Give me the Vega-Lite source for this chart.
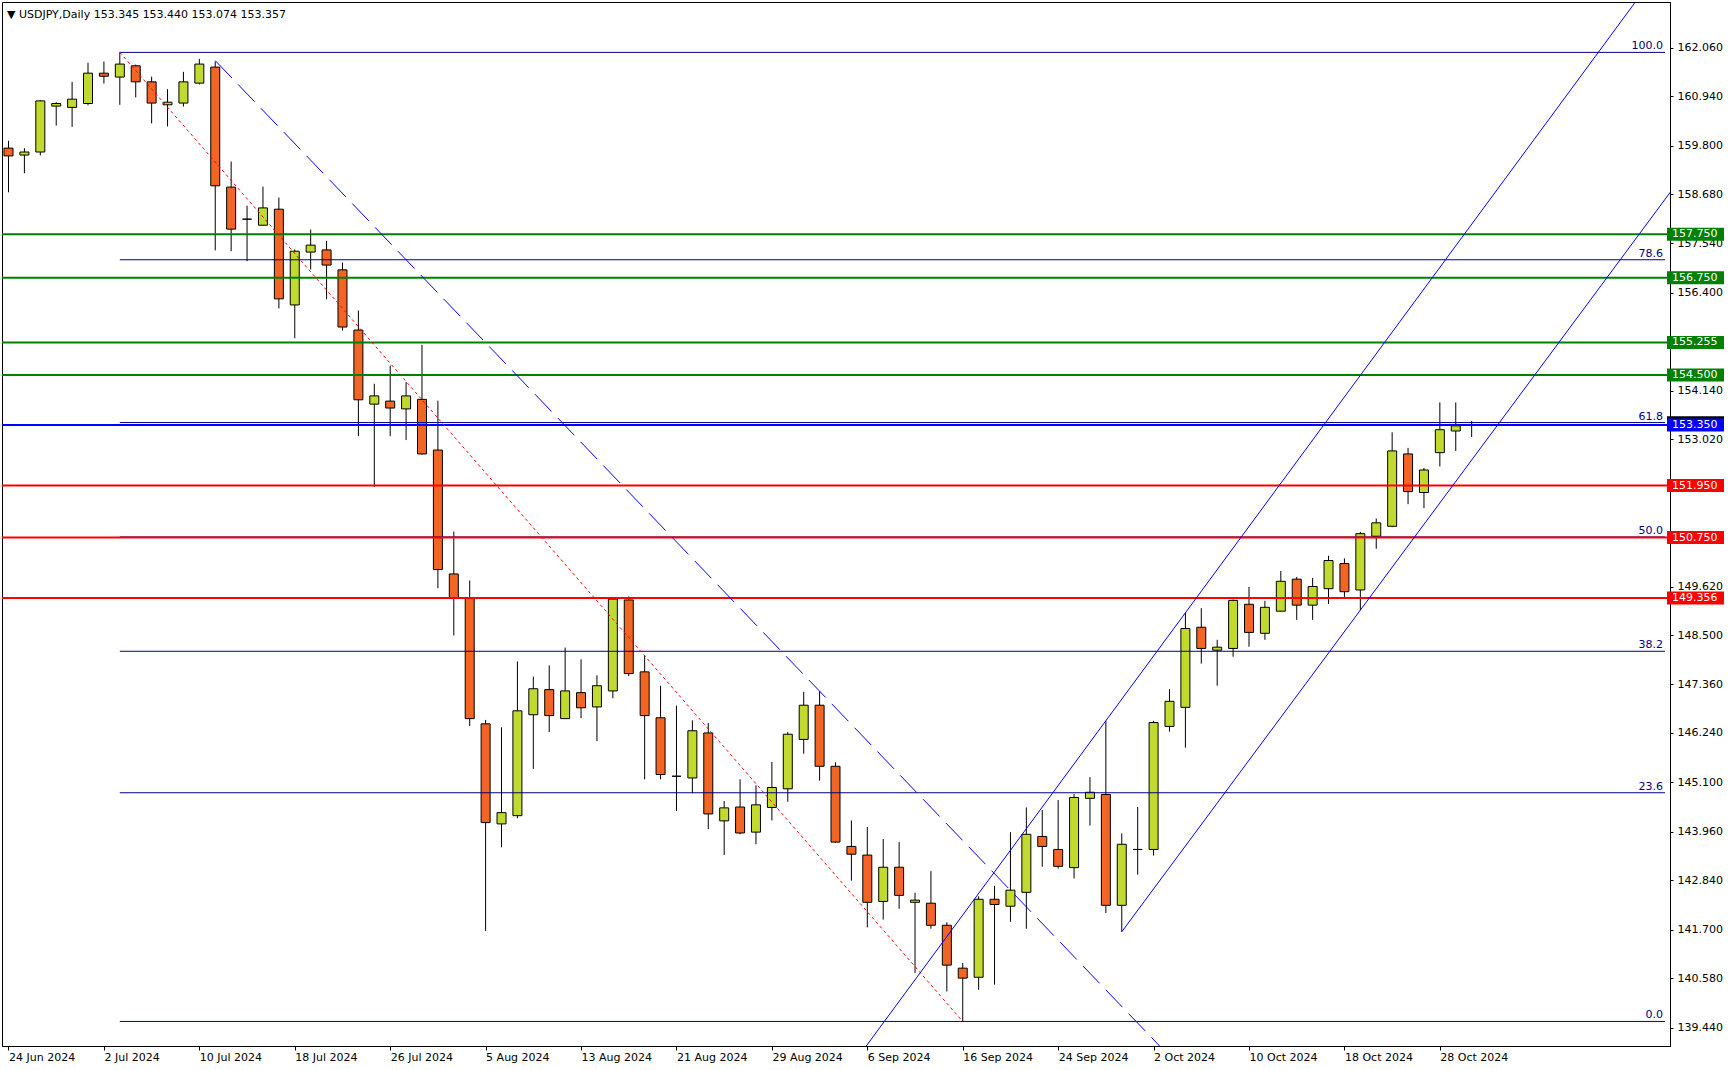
{
  "$schema": "https://vega.github.io/schema/vega-lite/v6.json",
  "width": 1668,
  "height": 1044,
  "autosize": {"type": "none"},
  "padding": {"left": 2, "top": 2, "right": 64, "bottom": 24},
  "background": "#FFFFFF",
  "title": {"text": "▼ USDJPY,Daily  153.345 153.440 153.074 153.357", "anchor": "start", "frame": "group", "offset": 0, "dx": 5, "dy": 18, "fontSize": 11, "fontWeight": "normal", "font": "DejaVu Sans", "color": "#000000"},
  "config": {
    "font": "DejaVu Sans",
    "view": {"stroke": "#000000", "strokeWidth": 1},
    "axis": {"grid": false, "domainColor": "#000000", "tickColor": "#000000", "labelColor": "#000000", "labelFont": "DejaVu Sans", "labelFontSize": 11}
  },
  "datasets": {
    "candles": [
      {"i":0,"date":"2024-06-24","o":159.74,"h":159.91,"l":158.72,"c":159.56},
      {"i":1,"date":"2024-06-25","o":159.58,"h":159.74,"l":159.16,"c":159.65},
      {"i":2,"date":"2024-06-26","o":159.65,"h":160.85,"l":159.57,"c":160.83},
      {"i":3,"date":"2024-06-27","o":160.71,"h":160.80,"l":160.26,"c":160.77},
      {"i":4,"date":"2024-06-28","o":160.68,"h":161.27,"l":160.23,"c":160.87},
      {"i":5,"date":"2024-07-01","o":160.77,"h":161.71,"l":160.73,"c":161.47},
      {"i":6,"date":"2024-07-02","o":161.47,"h":161.74,"l":161.23,"c":161.40},
      {"i":7,"date":"2024-07-03","o":161.38,"h":161.95,"l":160.74,"c":161.68},
      {"i":8,"date":"2024-07-04","o":161.64,"h":161.67,"l":160.91,"c":161.27},
      {"i":9,"date":"2024-07-05","o":161.27,"h":161.39,"l":160.31,"c":160.78},
      {"i":10,"date":"2024-07-08","o":160.74,"h":161.10,"l":160.24,"c":160.80},
      {"i":11,"date":"2024-07-09","o":160.78,"h":161.50,"l":160.70,"c":161.27},
      {"i":12,"date":"2024-07-10","o":161.24,"h":161.80,"l":161.21,"c":161.68},
      {"i":13,"date":"2024-07-11","o":161.61,"h":161.74,"l":157.38,"c":158.87},
      {"i":14,"date":"2024-07-12","o":158.84,"h":159.43,"l":157.36,"c":157.87},
      {"i":15,"date":"2024-07-15","o":158.10,"h":158.41,"l":157.13,"c":158.10},
      {"i":16,"date":"2024-07-16","o":157.96,"h":158.85,"l":157.95,"c":158.36},
      {"i":17,"date":"2024-07-17","o":158.33,"h":158.60,"l":156.04,"c":156.26},
      {"i":18,"date":"2024-07-18","o":156.12,"h":157.40,"l":155.35,"c":157.36},
      {"i":19,"date":"2024-07-19","o":157.34,"h":157.86,"l":156.94,"c":157.50},
      {"i":20,"date":"2024-07-22","o":157.39,"h":157.60,"l":156.25,"c":157.04},
      {"i":21,"date":"2024-07-23","o":156.93,"h":157.10,"l":155.53,"c":155.61},
      {"i":22,"date":"2024-07-24","o":155.54,"h":155.99,"l":153.09,"c":153.93},
      {"i":23,"date":"2024-07-25","o":153.83,"h":154.30,"l":151.92,"c":154.02},
      {"i":24,"date":"2024-07-26","o":153.90,"h":154.72,"l":153.09,"c":153.74},
      {"i":25,"date":"2024-07-29","o":153.72,"h":154.34,"l":153.00,"c":154.02},
      {"i":26,"date":"2024-07-30","o":153.94,"h":155.20,"l":152.66,"c":152.68},
      {"i":27,"date":"2024-07-31","o":152.77,"h":153.91,"l":149.58,"c":150.01},
      {"i":28,"date":"2024-08-01","o":149.91,"h":150.89,"l":148.49,"c":149.35},
      {"i":29,"date":"2024-08-02","o":149.35,"h":149.76,"l":146.40,"c":146.57},
      {"i":30,"date":"2024-08-05","o":146.45,"h":146.54,"l":141.67,"c":144.17},
      {"i":31,"date":"2024-08-06","o":144.14,"h":146.37,"l":143.60,"c":144.40},
      {"i":32,"date":"2024-08-07","o":144.33,"h":147.89,"l":144.27,"c":146.75},
      {"i":33,"date":"2024-08-08","o":146.66,"h":147.54,"l":145.41,"c":147.26},
      {"i":34,"date":"2024-08-09","o":147.24,"h":147.80,"l":146.26,"c":146.64},
      {"i":35,"date":"2024-08-12","o":146.57,"h":148.21,"l":146.57,"c":147.21},
      {"i":36,"date":"2024-08-13","o":147.17,"h":147.94,"l":146.58,"c":146.82},
      {"i":37,"date":"2024-08-14","o":146.84,"h":147.57,"l":146.05,"c":147.33},
      {"i":38,"date":"2024-08-15","o":147.21,"h":149.38,"l":147.04,"c":149.33},
      {"i":39,"date":"2024-08-16","o":149.31,"h":149.39,"l":147.55,"c":147.61},
      {"i":40,"date":"2024-08-19","o":147.65,"h":148.04,"l":145.17,"c":146.64},
      {"i":41,"date":"2024-08-20","o":146.59,"h":147.33,"l":145.17,"c":145.28},
      {"i":42,"date":"2024-08-21","o":145.24,"h":146.87,"l":144.44,"c":145.24},
      {"i":43,"date":"2024-08-22","o":145.20,"h":146.53,"l":144.85,"c":146.29},
      {"i":44,"date":"2024-08-23","o":146.24,"h":146.47,"l":144.02,"c":144.37},
      {"i":45,"date":"2024-08-26","o":144.21,"h":144.67,"l":143.42,"c":144.51},
      {"i":46,"date":"2024-08-27","o":144.53,"h":145.17,"l":143.90,"c":143.93},
      {"i":47,"date":"2024-08-28","o":143.95,"h":145.03,"l":143.67,"c":144.58},
      {"i":48,"date":"2024-08-29","o":144.52,"h":145.57,"l":144.22,"c":144.98},
      {"i":49,"date":"2024-08-30","o":144.95,"h":146.26,"l":144.65,"c":146.21},
      {"i":50,"date":"2024-09-02","o":146.09,"h":147.19,"l":145.76,"c":146.88},
      {"i":51,"date":"2024-09-03","o":146.88,"h":147.20,"l":145.14,"c":145.47},
      {"i":52,"date":"2024-09-04","o":145.47,"h":145.56,"l":143.70,"c":143.72},
      {"i":53,"date":"2024-09-05","o":143.62,"h":144.22,"l":142.83,"c":143.44},
      {"i":54,"date":"2024-09-06","o":143.42,"h":144.07,"l":141.75,"c":142.33},
      {"i":55,"date":"2024-09-09","o":142.35,"h":143.79,"l":141.93,"c":143.14},
      {"i":56,"date":"2024-09-10","o":143.14,"h":143.72,"l":142.18,"c":142.49},
      {"i":57,"date":"2024-09-11","o":142.33,"h":142.55,"l":140.70,"c":142.38},
      {"i":58,"date":"2024-09-12","o":142.31,"h":143.05,"l":141.72,"c":141.80},
      {"i":59,"date":"2024-09-13","o":141.80,"h":141.87,"l":140.27,"c":140.88},
      {"i":60,"date":"2024-09-16","o":140.81,"h":140.93,"l":139.58,"c":140.58},
      {"i":61,"date":"2024-09-17","o":140.60,"h":142.47,"l":140.31,"c":142.40},
      {"i":62,"date":"2024-09-18","o":142.40,"h":142.71,"l":140.43,"c":142.28},
      {"i":63,"date":"2024-09-19","o":142.24,"h":143.95,"l":141.88,"c":142.61},
      {"i":64,"date":"2024-09-20","o":142.56,"h":144.52,"l":141.72,"c":143.90},
      {"i":65,"date":"2024-09-23","o":143.85,"h":144.46,"l":143.15,"c":143.62},
      {"i":66,"date":"2024-09-24","o":143.55,"h":144.69,"l":143.11,"c":143.16},
      {"i":67,"date":"2024-09-25","o":143.13,"h":144.83,"l":142.88,"c":144.75},
      {"i":68,"date":"2024-09-26","o":144.73,"h":145.22,"l":144.10,"c":144.87},
      {"i":69,"date":"2024-09-27","o":144.82,"h":146.52,"l":142.08,"c":142.26},
      {"i":70,"date":"2024-09-30","o":142.26,"h":143.92,"l":141.65,"c":143.67},
      {"i":71,"date":"2024-10-01","o":143.55,"h":144.53,"l":142.97,"c":143.55},
      {"i":72,"date":"2024-10-02","o":143.55,"h":146.52,"l":143.41,"c":146.48},
      {"i":73,"date":"2024-10-03","o":146.39,"h":147.25,"l":146.27,"c":146.97},
      {"i":74,"date":"2024-10-04","o":146.83,"h":149.02,"l":145.90,"c":148.65},
      {"i":75,"date":"2024-10-07","o":148.68,"h":149.12,"l":147.84,"c":148.19},
      {"i":76,"date":"2024-10-08","o":148.15,"h":148.39,"l":147.33,"c":148.22},
      {"i":77,"date":"2024-10-09","o":148.19,"h":149.32,"l":148.00,"c":149.30},
      {"i":78,"date":"2024-10-10","o":149.21,"h":149.61,"l":148.23,"c":148.56},
      {"i":79,"date":"2024-10-11","o":148.54,"h":149.29,"l":148.39,"c":149.14},
      {"i":80,"date":"2024-10-14","o":149.05,"h":149.98,"l":149.04,"c":149.74},
      {"i":81,"date":"2024-10-15","o":149.79,"h":149.84,"l":148.85,"c":149.19},
      {"i":82,"date":"2024-10-16","o":149.19,"h":149.82,"l":148.85,"c":149.62},
      {"i":83,"date":"2024-10-17","o":149.57,"h":150.33,"l":149.22,"c":150.22},
      {"i":84,"date":"2024-10-18","o":150.15,"h":150.27,"l":149.36,"c":149.50},
      {"i":85,"date":"2024-10-21","o":149.54,"h":150.88,"l":149.07,"c":150.84},
      {"i":86,"date":"2024-10-22","o":150.78,"h":151.19,"l":150.49,"c":151.09},
      {"i":87,"date":"2024-10-23","o":151.01,"h":153.18,"l":150.99,"c":152.75},
      {"i":88,"date":"2024-10-24","o":152.68,"h":152.82,"l":151.52,"c":151.81},
      {"i":89,"date":"2024-10-25","o":151.79,"h":152.36,"l":151.43,"c":152.31},
      {"i":90,"date":"2024-10-28","o":152.71,"h":153.87,"l":152.39,"c":153.24},
      {"i":91,"date":"2024-10-29","o":153.21,"h":153.87,"l":152.75,"c":153.33},
      {"i":92,"date":"2024-10-30","o":153.345,"h":153.44,"l":153.074,"c":153.357}
    ],
    "levels": [
      {"price":157.75,"kind":"resistance"},
      {"price":156.75,"kind":"resistance"},
      {"price":155.255,"kind":"resistance"},
      {"price":154.5,"kind":"resistance"},
      {"price":153.35,"kind":"pivot"},
      {"price":151.95,"kind":"support"},
      {"price":150.75,"kind":"support"},
      {"price":149.356,"kind":"support"}
    ],
    "fib": [
      {"level":"100.0","price":161.95,"start":7},
      {"level":"78.6","price":157.163,"start":7},
      {"level":"61.8","price":153.405,"start":7},
      {"level":"50.0","price":150.765,"start":7},
      {"level":"38.2","price":148.125,"start":7},
      {"level":"23.6","price":144.859,"start":7},
      {"level":"0.0","price":139.58,"start":7}
    ],
    "lines": [
      {"name":"fibline","i":7,"p":161.95},
      {"name":"fibline","i":60,"p":139.58},
      {"name":"downtrend","i":13,"p":161.76},
      {"name":"downtrend","i":75,"p":138.01},
      {"name":"chanUp","i":52,"p":138.05},
      {"name":"chanUp","i":106,"p":164.96},
      {"name":"chanLow","i":70,"p":141.65},
      {"name":"chanLow","i":106,"p":159.47}
    ]
  },
  "layer": [
    {
      "data": {"name": "candles"},
      "mark": {"type": "rule", "stroke": "#000000", "strokeWidth": 1},
      "encoding": {
        "x": {"field": "i", "type": "quantitative", "title": null,
          "scale": {"domain": [-0.09375, 104.15625], "nice": false, "zero": false},
          "axis": {"orient": "bottom", "values": [0,6,12,18,24,30,36,42,48,54,60,66,72,78,84,90],
            "labelExpr": "['24 Jun 2024','2 Jul 2024','10 Jul 2024','18 Jul 2024','26 Jul 2024','5 Aug 2024','13 Aug 2024','21 Aug 2024','29 Aug 2024','6 Sep 2024','16 Sep 2024','24 Sep 2024','2 Oct 2024','10 Oct 2024','18 Oct 2024','28 Oct 2024'][round(datum.value/6)]",
            "labelAlign": "left", "labelBaseline": "top", "labelFlush": false, "labelOverlap": false, "tickSize": 4, "labelPadding": 1, "title": null}},
        "y": {"field": "l", "type": "quantitative", "title": null,
          "scale": {"domain": [139.013, 163.113], "nice": false, "zero": false},
          "axis": {"orient": "right", "values": [139.44,140.58,141.7,142.84,143.96,145.1,146.24,147.36,148.5,149.62,153.02,154.14,156.4,157.54,158.68,159.8,160.94,162.06],
            "format": ".3f", "tickSize": 3, "labelPadding": 4, "labelFlush": false, "labelOverlap": false, "labelBaseline": "middle", "title": null}},
        "y2": {"field": "h"}
      }
    },
    {
      "data": {"name": "candles"},
      "mark": {"type": "bar", "width": 9, "stroke": "#000000", "strokeWidth": 1},
      "encoding": {
        "x": {"field": "i", "type": "quantitative", "title": null, "scale": {"domain": [-0.09375, 104.15625], "nice": false, "zero": false}},
        "y": {"field": "o", "type": "quantitative", "title": null, "scale": {"domain": [139.013, 163.113], "nice": false, "zero": false}},
        "y2": {"field": "c"},
        "fill": {"condition": {"test": "datum.c >= datum.o", "value": "#C2D92F"}, "value": "#F26525"}
      }
    },
    {
      "data": {"name": "fib"},
      "mark": {"type": "rule", "stroke": "#000080", "strokeWidth": 1},
      "encoding": {
        "x": {"field": "start", "type": "quantitative", "title": null, "scale": {"domain": [-0.09375, 104.15625], "nice": false, "zero": false}},
        "x2": {"datum": 104.15625},
        "y": {"field": "price", "type": "quantitative", "title": null, "scale": {"domain": [139.013, 163.113], "nice": false, "zero": false}}
      }
    },
    {
      "data": {"name": "levels"},
      "mark": {"type": "rule", "strokeWidth": 2},
      "encoding": {
        "y": {"field": "price", "type": "quantitative", "title": null, "scale": {"domain": [139.013, 163.113], "nice": false, "zero": false}},
        "stroke": {"field": "kind", "type": "nominal", "legend": null, "scale": {"domain": ["resistance", "pivot", "support"], "range": ["#008000", "#0000FF", "#FF0000"]}}
      }
    },
    {
      "data": {"name": "lines"},
      "transform": [{"filter": "datum.name == 'fibline'"}],
      "mark": {"type": "line", "stroke": "#FF0000", "strokeWidth": 1, "strokeDash": [3, 3], "clip": true},
      "encoding": {
        "x": {"field": "i", "type": "quantitative", "title": null, "scale": {"domain": [-0.09375, 104.15625], "nice": false, "zero": false}},
        "y": {"field": "p", "type": "quantitative", "title": null, "scale": {"domain": [139.013, 163.113], "nice": false, "zero": false}}
      }
    },
    {
      "data": {"name": "lines"},
      "transform": [{"filter": "datum.name == 'downtrend'"}],
      "mark": {"type": "line", "stroke": "#0000FF", "strokeWidth": 1, "strokeDash": [24, 9], "clip": true},
      "encoding": {
        "x": {"field": "i", "type": "quantitative", "title": null, "scale": {"domain": [-0.09375, 104.15625], "nice": false, "zero": false}},
        "y": {"field": "p", "type": "quantitative", "title": null, "scale": {"domain": [139.013, 163.113], "nice": false, "zero": false}}
      }
    },
    {
      "data": {"name": "lines"},
      "transform": [{"filter": "datum.name == 'chanUp' || datum.name == 'chanLow'"}],
      "mark": {"type": "line", "stroke": "#0000FF", "strokeWidth": 1, "clip": true},
      "encoding": {
        "x": {"field": "i", "type": "quantitative", "title": null, "scale": {"domain": [-0.09375, 104.15625], "nice": false, "zero": false}},
        "y": {"field": "p", "type": "quantitative", "title": null, "scale": {"domain": [139.013, 163.113], "nice": false, "zero": false}},
        "detail": {"field": "name", "type": "nominal"}
      }
    },
    {
      "data": {"values": [{"price": 153.357}]},
      "mark": {"type": "tick", "orient": "horizontal", "size": 57, "thickness": 13, "xOffset": 30.5, "yOffset": -2, "color": "#000000", "opacity": 1},
      "encoding": {
        "x": {"datum": 104.15625, "type": "quantitative", "title": null, "scale": {"domain": [-0.09375, 104.15625], "nice": false, "zero": false}},
        "y": {"field": "price", "type": "quantitative", "title": null, "scale": {"domain": [139.013, 163.113], "nice": false, "zero": false}}
      }
    },
    {
      "data": {"name": "levels"},
      "mark": {"type": "tick", "orient": "horizontal", "size": 57, "thickness": 13, "xOffset": 30.5, "opacity": 1},
      "encoding": {
        "x": {"datum": 104.15625, "type": "quantitative", "title": null, "scale": {"domain": [-0.09375, 104.15625], "nice": false, "zero": false}},
        "y": {"field": "price", "type": "quantitative", "title": null, "scale": {"domain": [139.013, 163.113], "nice": false, "zero": false}},
        "color": {"field": "kind", "type": "nominal", "legend": null, "scale": {"domain": ["resistance", "pivot", "support"], "range": ["#008000", "#0000FF", "#FF0000"]}}
      }
    },
    {
      "data": {"name": "levels"},
      "mark": {"type": "text", "align": "left", "baseline": "middle", "dx": 7, "fill": "#FFFFFF", "fontSize": 11, "font": "DejaVu Sans"},
      "encoding": {
        "x": {"datum": 104.15625, "type": "quantitative", "title": null, "scale": {"domain": [-0.09375, 104.15625], "nice": false, "zero": false}},
        "y": {"field": "price", "type": "quantitative", "title": null, "scale": {"domain": [139.013, 163.113], "nice": false, "zero": false}},
        "text": {"field": "price", "type": "quantitative", "format": ".3f"}
      }
    },
    {
      "data": {"name": "fib"},
      "mark": {"type": "text", "align": "right", "baseline": "alphabetic", "dx": -2, "dy": -3, "fill": "#000080", "fontSize": 11, "font": "DejaVu Sans"},
      "encoding": {
        "x": {"datum": 104.15625, "type": "quantitative", "title": null, "scale": {"domain": [-0.09375, 104.15625], "nice": false, "zero": false}},
        "y": {"field": "price", "type": "quantitative", "title": null, "scale": {"domain": [139.013, 163.113], "nice": false, "zero": false}},
        "text": {"field": "level", "type": "nominal"}
      }
    }
  ]
}
